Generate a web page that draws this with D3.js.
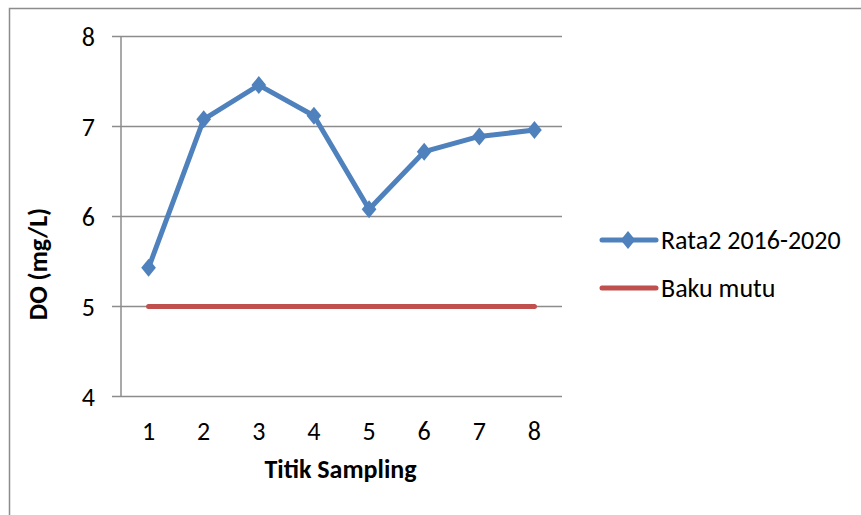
<!DOCTYPE html>
<html>
<head>
<meta charset="utf-8">
<script src="https://cdn.jsdelivr.net/npm/d3@7"></script>
<style>
  body { margin: 0; background: #fff; }
  text { font-family: Carlito, "Open Sans", "Noto Sans", sans-serif; fill: #000; }
</style>
</head>
<body>
<div id="chart"></div>
<script>
var categories = ["1", "2", "3", "4", "5", "6", "7", "8"];
var rata2 = [5.43, 7.08, 7.46, 7.12, 6.08, 6.72, 6.89, 6.96];
var bakuMutu = [5, 5, 5, 5, 5, 5, 5, 5];
var yTicks = [4, 5, 6, 7, 8];
var seriesNames = ["Rata2 2016-2020", "Baku mutu"];

var config = {
  width: 861,
  height: 515,
  fontSize: 26,
  margin: { left: 121, top: 36.5, right: 299, bottom: 118.5 }
};

var svg = d3.select("#chart").append("svg")
    .attr("width", config.width)
    .attr("height", config.height);

// outer chart frame
svg.append("rect")
    .attr("x", 9.5).attr("y", 8.5)
    .attr("width", 900).attr("height", 600)
    .attr("fill", "none")
    .attr("stroke", "#8c8c8c")
    .attr("stroke-width", 1.5);

var plotW = config.width - config.margin.left - config.margin.right,
    plotH = config.height - config.margin.top - config.margin.bottom;

var chart = svg.append("g")
    .attr("transform", "translate(" + config.margin.left + "," + config.margin.top + ")");

var x = d3.scaleBand().domain(categories).range([0, plotW]);
var y = d3.scaleLinear().domain([4, 8]).range([plotH, 0]);
var cx = function(d) { return x(d) + x.bandwidth() / 2; };

// gridlines (also act as tick marks)
chart.selectAll(".grid").data(yTicks).enter()
  .append("line")
    .attr("x1", -9).attr("x2", plotW)
    .attr("y1", function(d) { return y(d); })
    .attr("y2", function(d) { return y(d); })
    .attr("stroke", "#8c8c8c")
    .attr("stroke-width", 1.5);

chart.append("line")
    .attr("x1", 0).attr("x2", 0)
    .attr("y1", 0).attr("y2", plotH)
    .attr("stroke", "#8c8c8c")
    .attr("stroke-width", 1.5);

chart.selectAll(".ylab").data(yTicks).enter()
  .append("text")
    .attr("x", -26)
    .attr("y", function(d) { return y(d) + 9; })
    .attr("text-anchor", "end")
    .attr("font-size", config.fontSize)
    .text(function(d) { return d; });

chart.selectAll(".xlab").data(categories).enter()
  .append("text")
    .attr("x", cx)
    .attr("y", plotH + 43.5)
    .attr("text-anchor", "middle")
    .attr("font-size", config.fontSize)
    .text(function(d) { return d; });

chart.append("text")
    .attr("x", plotW / 2 - 1)
    .attr("y", plotH + 81.5)
    .attr("text-anchor", "middle")
    .attr("font-size", config.fontSize)
    .attr("font-weight", "bold")
    .text("Titik Sampling");

svg.append("text")
    .attr("transform", "translate(47,264) rotate(-90)")
    .attr("text-anchor", "middle")
    .attr("font-size", config.fontSize)
    .attr("font-weight", "bold")
    .text("DO (mg/L)");

var line = d3.line()
    .x(function(d, i) { return cx(categories[i]); })
    .y(function(d) { return y(d); });

chart.append("path").datum(bakuMutu)
    .attr("d", line)
    .attr("fill", "none")
    .attr("stroke", "#c0504d")
    .attr("stroke-width", 5)
    .attr("stroke-linecap", "round");

chart.append("path").datum(rata2)
    .attr("d", line)
    .attr("fill", "none")
    .attr("stroke", "#4f81bd")
    .attr("stroke-width", 5)
    .attr("stroke-linejoin", "round");

var diamond = d3.symbol().type(d3.symbolDiamond2).size(170);

chart.selectAll(".pt").data(rata2).enter()
  .append("path")
    .attr("d", diamond)
    .attr("transform", function(d, i) {
      return "translate(" + cx(categories[i]) + "," + y(d) + ") scale(0.9,1.1)";
    })
    .attr("fill", "#4f81bd");

// legend
var legend = svg.append("g").attr("transform", "translate(600,240)");
var colors = ["#4f81bd", "#c0504d"];
var items = legend.selectAll("g").data(seriesNames).enter()
  .append("g")
    .attr("transform", function(d, i) { return "translate(0," + (i * 48) + ")"; });

items.append("line")
    .attr("x1", 2).attr("x2", 56)
    .attr("stroke", function(d, i) { return colors[i]; })
    .attr("stroke-width", 5)
    .attr("stroke-linecap", "round");

items.filter(function(d, i) { return i === 0; })
  .append("path")
    .attr("d", diamond)
    .attr("transform", "translate(28,0) scale(0.9,1.1)")
    .attr("fill", colors[0]);

items.append("text")
    .attr("x", 61)
    .attr("y", 8.5)
    .attr("font-size", config.fontSize)
    .text(function(d) { return d; });
</script>
</body>
</html>
